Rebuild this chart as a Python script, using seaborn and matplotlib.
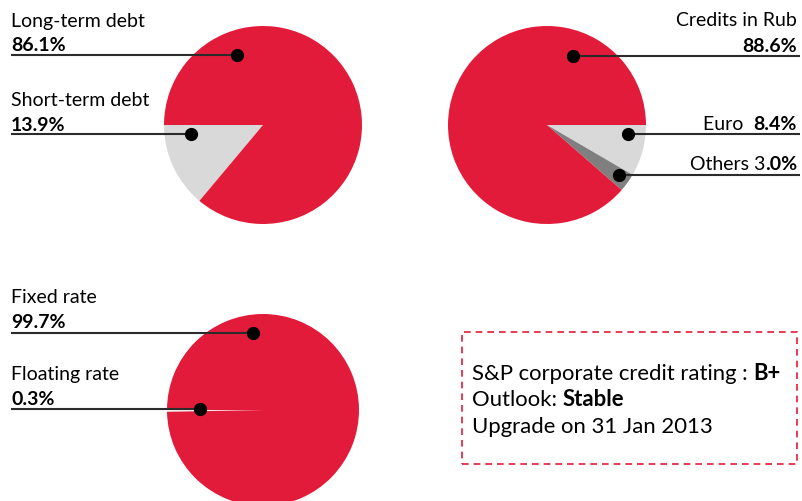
import matplotlib
matplotlib.use("Agg")
import matplotlib.pyplot as plt
from matplotlib.patches import Rectangle
import seaborn as sns

# ---------------- data ----------------
debt_labels = ["Short-term debt", "Long-term debt"]
debt_values = [13.9, 86.1]
currency_labels = ["Euro", "Others", "Credits in Rub"]
currency_values = [8.4, 3.0, 88.6]
rate_labels = ["Floating rate", "Fixed rate"]
rate_values = [0.3, 99.7]
rating_lines = [("S&P corporate credit rating : ", "B+"),
                ("Outlook: ", "Stable"),
                ("Upgrade on 31 Jan 2013", "")]

# ---------------- style ----------------
sns.set_theme(style="white")
plt.rcParams["font.family"] = ["Lato", "DejaVu Sans"]
RED = "#E31B3A"
LIGHT = "#D9D9D9"
DARK = "#7F7F7F"
LINE = "#2B2B2B"
FS = 14.0
FS_BOX = 15.9

W, H = 802, 502
fig = plt.figure(figsize=(W / 100, H / 100), dpi=100)
ax = fig.add_axes([0, 0, 1, 1])


def Y(py):
    return H - py


def pie(values, colors, center, radius, start, ccw):
    ax.pie(values, colors=colors, center=(center[0], Y(center[1])), radius=radius,
           startangle=start, counterclock=ccw, frame=True,
           wedgeprops=dict(linewidth=0))


pie(debt_values, [LIGHT, RED], (263, 126), 99, 180, True)
pie(currency_values, [LIGHT, DARK, RED], (547, 126), 99, 0, False)
pie(rate_values, ["#F4F4F4", RED], (263, 411), 96, 180, True)
ax.set_xlim(0, W)
ax.set_ylim(0, H)
ax.set_aspect("equal")
ax.axis("off")

renderer = fig.canvas.get_renderer()


def leader(x0, x1, py):
    ax.plot([x0, x1], [Y(py), Y(py)], color=LINE, lw=1.5, solid_capstyle="butt", zorder=5)


def dot(px, py):
    ax.plot([px], [Y(py)], "o", color="black", ms=8.5, zorder=6)


def left_label(name, val, name_y, val_y, line_y, dot_xy):
    ax.text(11, Y(name_y), name, fontsize=FS, va="baseline", ha="left", color="black")
    ax.text(11, Y(val_y), f"{val}%", fontsize=FS, fontweight="bold", va="baseline",
            ha="left", color="black")
    leader(11, dot_xy[0], line_y)
    dot(*dot_xy)


def mixed_right(parts, x_right, py):
    x = x_right
    for txt, bold in reversed(parts):
        t = ax.text(x, Y(py), txt, fontsize=FS, fontweight="bold" if bold else "normal",
                    va="baseline", ha="right", color="black")
        bb = t.get_window_extent(renderer)
        x = x - bb.width


def mixed_left(parts, x_left, py, fs):
    x = x_left
    for txt, bold in parts:
        if not txt:
            continue
        t = ax.text(x, Y(py), txt, fontsize=fs, fontweight="bold" if bold else "normal",
                    va="baseline", ha="left", color="black")
        bb = t.get_window_extent(renderer)
        x = x + bb.width


# pie 1 labels
left_label(debt_labels[1], debt_values[1], 27, 51, 56, (237, 56))
left_label(debt_labels[0], debt_values[0], 106, 131, 135, (191, 135))

# pie 3 labels
left_label(rate_labels[1], rate_values[1], 303, 328, 334, (253, 334))
left_label(rate_labels[0], rate_values[0], 380, 405, 410, (200, 410))

# pie 2 labels (right aligned)
mixed_right([(currency_labels[2], False)], 797, 26)
mixed_right([(f"{currency_values[2]}%", True)], 797, 52)
leader(573, 800, 57)
dot(573, 57)
cv0 = f"{currency_values[0]}%"
mixed_right([(currency_labels[0] + "  ", False), (cv0, True)], 797, 130)
leader(628, 800, 135)
dot(628, 135)
cv1 = f"{currency_values[1]:.1f}%"
mixed_right([(currency_labels[1] + " " + cv1[0], False), (cv1[1:], True)], 797, 170)
leader(619, 800, 176)
dot(619, 176)

# rating box
ax.add_patch(Rectangle((462, Y(465)), 797 - 462, 465 - 333, fill=False,
                       edgecolor=RED, lw=1.2, linestyle=(0, (4, 3)), zorder=4))
for i, (reg, bold) in enumerate(rating_lines):
    mixed_left([(reg, False), (bold, True)], 472, 380 + i * 26.5, FS_BOX)

fig.savefig("out.png", dpi=100)
